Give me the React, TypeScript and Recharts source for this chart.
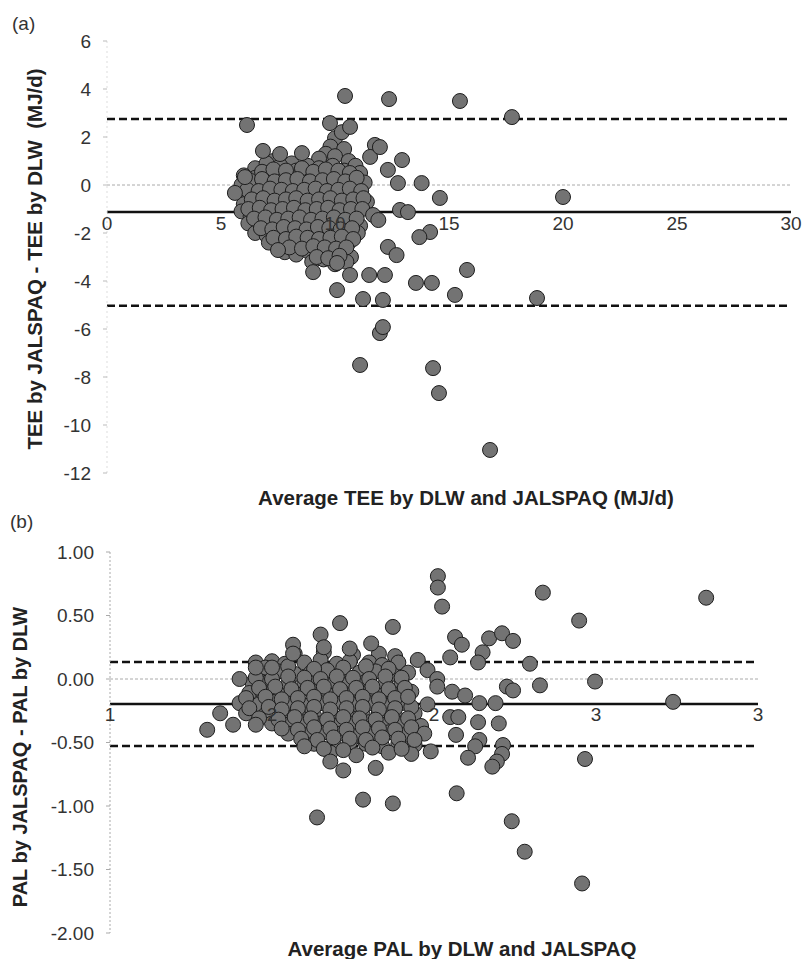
import {
  ReferenceDot,
  ReferenceLine,
  Scatter,
  ScatterChart,
  XAxis,
  YAxis,
} from "recharts";

// (a) TEE: average (MJ/d) vs difference (MJ/d)
const teeCluster: [number, number][] = [
  [10.0, 1.95], [10.3, 2.2], [9.8, 1.6], [10.4, 1.5], [9.6, 1.3],
  [7.3, 1.0], [9.3, 1.1], [10.0, 1.2], [10.6, 1.0], [8.1, 0.9],
  [6.5, 0.7], [7.0, 0.9], [7.6, 0.8], [8.3, 0.6], [8.8, 0.8], [9.3, 0.7], [9.9, 0.8], [10.4, 0.6], [10.9, 0.8],
  [6.0, 0.4], [6.5, 0.3], [7.1, 0.5], [7.6, 0.4], [8.1, 0.3], [8.6, 0.5], [9.2, 0.4], [9.7, 0.3], [10.2, 0.4], [10.7, 0.2], [11.1, 0.5],
  [5.9, 0.0], [6.4, -0.1], [6.9, 0.1], [7.4, 0.0], [7.9, -0.1], [8.4, 0.1], [8.9, -0.05], [9.4, 0.05], [9.9, -0.1], [10.4, 0.0], [10.9, -0.15], [11.3, 0.1],
  [6.1, -0.45], [6.6, -0.35], [7.1, -0.5], [7.6, -0.4], [8.1, -0.3], [8.6, -0.45], [9.1, -0.35], [9.6, -0.5], [10.1, -0.4], [10.6, -0.3], [11.1, -0.5],
  [6.0, -0.8], [6.5, -0.9], [7.0, -0.75], [7.5, -0.85], [8.0, -0.8], [8.5, -0.7], [9.0, -0.9], [9.5, -0.8], [10.0, -0.75], [10.5, -0.9], [11.0, -0.8], [11.4, -0.7],
  [5.9, -1.1], [6.3, -1.3], [6.8, -1.2], [7.3, -1.1], [7.8, -1.3], [8.3, -1.2], [8.8, -1.15], [9.3, -1.3], [9.8, -1.2], [10.3, -1.1], [10.8, -1.3],
  [6.2, -1.6], [6.7, -1.5], [7.2, -1.7], [7.7, -1.55], [8.2, -1.65], [8.7, -1.5], [9.2, -1.6], [9.7, -1.7], [10.2, -1.55], [10.7, -1.6], [11.1, -1.7],
  [6.5, -2.0], [7.0, -2.1], [7.5, -1.95], [8.0, -2.05], [8.5, -2.1], [9.0, -1.95], [9.5, -2.1], [10.0, -2.0], [10.5, -2.15], [11.0, -2.0],
  [7.1, -2.4], [7.6, -2.5], [8.1, -2.35], [8.6, -2.45], [9.1, -2.5], [9.6, -2.35], [10.1, -2.45], [10.6, -2.4],
  [7.8, -2.8], [8.3, -2.9], [8.8, -2.75], [9.3, -2.85], [9.8, -2.9], [10.3, -2.8], [10.7, -3.0],
  [9.0, -3.2], [9.5, -3.1], [10.0, -3.3], [10.5, -3.2],
  // in-between rows
  [6.8, 0.55], [7.3, 0.65], [7.85, 0.6], [8.55, 0.7], [9.05, 0.55], [9.6, 0.65], [10.15, 0.6], [10.65, 0.5],
  [6.25, 0.2], [6.8, 0.25], [7.35, 0.15], [7.85, 0.2], [8.35, 0.25], [8.9, 0.15], [9.45, 0.2], [9.95, 0.25], [10.45, 0.15], [10.95, 0.3],
  [6.15, -0.2], [6.65, -0.25], [7.15, -0.15], [7.65, -0.2], [8.15, -0.25], [8.65, -0.2], [9.15, -0.15], [9.65, -0.25], [10.15, -0.2], [10.65, -0.15], [11.15, -0.25],
  [6.35, -0.6], [6.85, -0.55], [7.35, -0.65], [7.85, -0.6], [8.3, -0.55], [8.8, -0.65], [9.3, -0.6], [9.8, -0.55], [10.3, -0.65], [10.8, -0.6], [11.25, -0.55],
  [6.2, -1.0], [6.7, -0.95], [7.2, -1.05], [7.7, -1.0], [8.2, -0.95], [8.7, -1.05], [9.2, -1.0], [9.7, -0.95], [10.2, -1.05], [10.7, -1.0], [11.2, -1.0],
  [6.45, -1.4], [6.95, -1.35], [7.45, -1.45], [7.95, -1.4], [8.45, -1.35], [8.95, -1.45], [9.45, -1.4], [9.95, -1.35], [10.45, -1.45], [10.95, -1.4],
  [6.75, -1.8], [7.25, -1.85], [7.75, -1.75], [8.25, -1.8], [8.75, -1.85], [9.25, -1.75], [9.75, -1.8], [10.25, -1.85], [10.75, -1.8],
  [7.3, -2.2], [7.85, -2.25], [8.3, -2.15], [8.8, -2.2], [9.3, -2.25], [9.8, -2.2], [10.3, -2.15], [10.8, -2.25],
  [8.0, -2.6], [8.55, -2.65], [9.05, -2.55], [9.55, -2.6], [10.05, -2.65], [10.5, -2.6],
  [9.2, -3.0], [9.7, -3.05], [10.2, -2.95],
];

const teeOutliers: [number, number][] = [
  [10.44, 3.71], [12.37, 3.58], [15.48, 3.5], [17.76, 2.83], [6.14, 2.5], [9.78, 2.58], [10.66, 2.42],
  [6.84, 1.42], [7.59, 1.29], [8.55, 1.33], [6.05, 0.33], [5.61, -0.33], [11.75, 1.67], [11.54, 1.17],
  [12.94, 1.04], [12.32, 0.63], [12.76, 0.08], [13.8, 0.08], [14.6, -0.54], [20.0, -0.5], [11.97, 1.58],
  [12.85, -1.04], [13.2, -1.13], [11.67, -1.25], [11.9, -1.46], [14.17, -1.96], [13.7, -2.17],
  [12.32, -2.58], [12.7, -2.92], [15.79, -3.54], [9.04, -3.63], [11.5, -3.75], [12.19, -3.75],
  [13.55, -4.08], [14.25, -4.08], [10.09, -4.38], [15.26, -4.58], [11.23, -4.75], [12.1, -4.79],
  [18.86, -4.71], [11.97, -6.17], [12.1, -5.92], [11.1, -7.5], [14.3, -7.63], [14.56, -8.67],
  [16.8, -11.04], [10.09, -3.25], [10.66, -3.75], [7.5, -2.71],
];

const teeTicksX = [0, 5, 10, 15, 20, 25, 30];
const teeTicksY = [-12, -10, -8, -6, -4, -2, 0, 2, 4, 6];
const teeMean = -1.12;
const teeUpper = 2.75;
const teeLower = -5.03;

// (b) PAL: average vs difference
const palCluster: [number, number][] = [
  [1.57, 0.2], [1.66, 0.21], [1.75, 0.19], [1.83, 0.2], [1.88, 0.18],
  [1.45, 0.13], [1.5, 0.14], [1.54, 0.12], [1.6, 0.13], [1.65, 0.15], [1.7, 0.12], [1.74, 0.14], [1.8, 0.13], [1.84, 0.11], [1.89, 0.13],
  [1.47, 0.05], [1.52, 0.06], [1.57, 0.04], [1.62, 0.05], [1.67, 0.07], [1.72, 0.04], [1.77, 0.05], [1.82, 0.06], [1.87, 0.04], [1.92, 0.05],
  [1.44, -0.03], [1.49, -0.02], [1.55, -0.04], [1.6, -0.03], [1.64, -0.01], [1.69, -0.04], [1.74, -0.03], [1.79, -0.02], [1.85, -0.04], [1.9, -0.03],
  [1.43, -0.11], [1.47, -0.1], [1.52, -0.12], [1.57, -0.11], [1.62, -0.09], [1.67, -0.12], [1.72, -0.11], [1.77, -0.1], [1.82, -0.12], [1.87, -0.11], [1.93, -0.1],
  [1.4, -0.19], [1.46, -0.2], [1.5, -0.18], [1.55, -0.19], [1.6, -0.21], [1.65, -0.19], [1.7, -0.18], [1.75, -0.2], [1.8, -0.19], [1.85, -0.21], [1.9, -0.19],
  [1.42, -0.27], [1.48, -0.28], [1.53, -0.26], [1.58, -0.27], [1.63, -0.29], [1.68, -0.27], [1.73, -0.26], [1.78, -0.28], [1.83, -0.27], [1.88, -0.29], [1.94, -0.27],
  [1.5, -0.35], [1.55, -0.36], [1.6, -0.34], [1.65, -0.35], [1.7, -0.37], [1.75, -0.35], [1.8, -0.34], [1.85, -0.36], [1.9, -0.35], [1.96, -0.37],
  [1.55, -0.43], [1.61, -0.44], [1.66, -0.42], [1.71, -0.43], [1.76, -0.45], [1.81, -0.43], [1.86, -0.42], [1.91, -0.44], [1.97, -0.43],
  [1.63, -0.51], [1.69, -0.52], [1.74, -0.5], [1.79, -0.51], [1.84, -0.53], [1.89, -0.51], [1.94, -0.52],
  [1.68, -0.58], [1.76, -0.6], [1.86, -0.58], [1.93, -0.59], [1.99, -0.57],
  // in-between rows
  [1.48, 0.09], [1.55, 0.1], [1.63, 0.08], [1.72, 0.09], [1.79, 0.1], [1.86, 0.08],
  [1.45, 0.01], [1.5, 0.0], [1.55, 0.02], [1.6, 0.01], [1.65, 0.0], [1.7, 0.02], [1.75, 0.01], [1.8, 0.0], [1.85, 0.02], [1.9, 0.01],
  [1.46, -0.07], [1.51, -0.06], [1.56, -0.08], [1.61, -0.07], [1.66, -0.06], [1.71, -0.08], [1.76, -0.07], [1.81, -0.06], [1.86, -0.08], [1.91, -0.07],
  [1.42, -0.15], [1.48, -0.14], [1.53, -0.16], [1.58, -0.15], [1.63, -0.14], [1.68, -0.16], [1.73, -0.15], [1.78, -0.14], [1.83, -0.16], [1.88, -0.15],
  [1.43, -0.23], [1.49, -0.22], [1.53, -0.24], [1.58, -0.23], [1.63, -0.22], [1.68, -0.24], [1.73, -0.23], [1.78, -0.22], [1.83, -0.24], [1.88, -0.23], [1.93, -0.22],
  [1.46, -0.31], [1.52, -0.32], [1.57, -0.3], [1.62, -0.31], [1.67, -0.32], [1.72, -0.3], [1.77, -0.31], [1.82, -0.32], [1.87, -0.3], [1.92, -0.31],
  [1.53, -0.39], [1.58, -0.4], [1.63, -0.38], [1.68, -0.39], [1.73, -0.4], [1.78, -0.38], [1.83, -0.39], [1.88, -0.4], [1.93, -0.38],
  [1.59, -0.47], [1.64, -0.48], [1.69, -0.46], [1.74, -0.47], [1.79, -0.48], [1.84, -0.46], [1.89, -0.47], [1.94, -0.48],
  [1.66, -0.55], [1.72, -0.56], [1.81, -0.54], [1.9, -0.55],
];

const palOutliers: [number, number][] = [
  [2.012, 0.81], [2.012, 0.72], [2.025, 0.57], [2.336, 0.68], [2.84, 0.64], [2.448, 0.46], [1.873, 0.41],
  [1.71, 0.44], [2.065, 0.33], [2.086, 0.27], [2.17, 0.32], [2.21, 0.36], [2.244, 0.3], [2.15, 0.21],
  [2.136, 0.13], [2.05, 0.17], [2.296, 0.12], [2.497, -0.02], [2.327, -0.05], [2.225, -0.06], [2.244, -0.09],
  [2.738, -0.18], [2.14, -0.19], [2.19, -0.19], [2.056, -0.1], [2.096, -0.13], [2.05, -0.3], [2.075, -0.3],
  [2.136, -0.34], [2.2, -0.35], [2.068, -0.44], [2.14, -0.48], [2.127, -0.53], [2.105, -0.62], [2.213, -0.52],
  [2.21, -0.59], [2.194, -0.65], [2.18, -0.69], [2.466, -0.63], [2.07, -0.9], [1.873, -0.98], [2.24, -1.12],
  [2.28, -1.36], [2.457, -1.61], [1.639, -1.09], [1.781, -0.95], [1.3, -0.4], [1.34, -0.27], [1.38, -0.36],
  [1.45, -0.36], [1.65, 0.35], [1.66, 0.25], [1.565, 0.27], [1.565, 0.2], [1.806, 0.28], [1.74, 0.24],
  [1.45, 0.09], [1.5, 0.09], [1.4, 0.0], [1.95, 0.15], [1.98, 0.07], [2.01, 0.0], [2.01, -0.06], [1.92, -0.14],
  [1.98, -0.2], [1.68, -0.65], [1.72, -0.72], [1.82, -0.7], [1.6, -0.53],
];

const palTicksX = [1, 1.5, 2, 2.5, 3];
const palTicksY = [-2, -1.5, -1, -0.5, 0, 0.5, 1];
const palMean = -0.197;
const palUpper = 0.134;
const palLower = -0.528;

const toPts = (arr: [number, number][]) => arr.map(([x, y]) => ({ x, y }));

const Dot = (p: any) => (
  <circle cx={p.cx} cy={p.cy} r={7.5} fill="#737373" stroke="#1e1e1e" strokeWidth={1} />
);

const tickStyle = { fill: "#333", fontSize: 19 };

export default function App() {
  const teeData = toPts([...teeCluster, ...teeOutliers]);
  const palData = toPts([...palCluster, ...palOutliers]);
  return (
    <div
      style={{
        position: "absolute",
        left: 0,
        top: 0,
        width: 805,
        height: 959,
        background: "#fff",
        fontFamily: "'Liberation Sans', Arial, sans-serif",
      }}
    >
      <div style={{ position: "absolute", left: 0, top: 0 }}>
        <ScatterChart width={805} height={500} margin={{ top: 41, right: 14, bottom: 27, left: 0 }}>
          <XAxis type="number" dataKey="x" domain={[0, 30]} hide />
          <YAxis
            type="number"
            dataKey="y"
            domain={[-12, 6]}
            ticks={teeTicksY}
            width={107}
            tickSize={4}
            tickMargin={12}
            tick={tickStyle}
            axisLine={{ stroke: "#ddd", strokeDasharray: "2 3" }}
            tickLine={{ stroke: "#bbb" }}
          />
          <ReferenceLine y={0} stroke="#aaa" strokeDasharray="3 2" />
          <ReferenceLine y={teeUpper} stroke="#111" strokeWidth={2.5} strokeDasharray="8 4" />
          <ReferenceLine y={teeLower} stroke="#111" strokeWidth={2.5} strokeDasharray="8 4" />
          <ReferenceLine y={teeMean} stroke="#111" strokeWidth={2.5} />
          {teeTicksX.map((t) => (
            <ReferenceDot
              key={t}
              x={t}
              y={teeMean}
              r={0}
              fill="none"
              stroke="none"
              label={{ value: String(t), position: "bottom", offset: 5, fill: "#333", fontSize: 19 }}
            />
          ))}
          <Scatter data={teeData} shape={Dot} isAnimationActive={false} />
        </ScatterChart>
      </div>
      <div style={{ position: "absolute", left: 0, top: 500 }}>
        <ScatterChart width={805} height={459} margin={{ top: 52, right: 47, bottom: 26, left: 0 }}>
          <XAxis type="number" dataKey="x" domain={[1, 3]} hide />
          <YAxis
            type="number"
            dataKey="y"
            domain={[-2, 1]}
            ticks={palTicksY}
            width={110}
            tickSize={4}
            tickMargin={12}
            tick={tickStyle}
            tickFormatter={(v: number) => v.toFixed(2)}
            axisLine={{ stroke: "#aaa", strokeDasharray: "2 2" }}
            tickLine={{ stroke: "#aaa" }}
          />
          <ReferenceLine y={0} stroke="#aaa" strokeDasharray="3 2" />
          <ReferenceLine y={palUpper} stroke="#111" strokeWidth={2.5} strokeDasharray="8 4" />
          <ReferenceLine y={palLower} stroke="#111" strokeWidth={2.5} strokeDasharray="8 4" />
          <ReferenceLine y={palMean} stroke="#111" strokeWidth={2.5} />
          {palTicksX.map((t) => (
            <ReferenceDot
              key={t}
              x={t}
              y={palMean}
              r={0}
              fill="none"
              stroke="none"
              label={{ value: String(Math.round(t)), position: "bottom", offset: 3, fill: "#333", fontSize: 19 }}
            />
          ))}
          <Scatter data={palData} shape={Dot} isAnimationActive={false} />
        </ScatterChart>
      </div>
      <svg
        width={805}
        height={959}
        style={{ position: "absolute", left: 0, top: 0, pointerEvents: "none" }}
      >
        <text x={12} y={30} fontSize={19} fill="#333">(a)</text>
        <text x={10} y={528} fontSize={19} fill="#333">(b)</text>
        <text x={466} y={505} fontSize={20.5} fontWeight="bold" fill="#222" textAnchor="middle">
          Average TEE by DLW and JALSPAQ (MJ/d)
        </text>
        <text x={462} y={956} fontSize={20.5} fontWeight="bold" fill="#222" textAnchor="middle">
          Average PAL by DLW and JALSPAQ
        </text>
        <text
          transform="translate(42,259) rotate(-90)"
          fontSize={20.5}
          fontWeight="bold"
          fill="#222"
          textAnchor="middle"
          style={{ whiteSpace: "pre" }}
        >
          {"TEE by JALSPAQ - TEE by DLW  (MJ/d)"}
        </text>
        <text
          transform="translate(27,757) rotate(-90)"
          fontSize={20}
          fontWeight="bold"
          fill="#222"
          textAnchor="middle"
        >
          PAL by JALSPAQ - PAL by DLW
        </text>
      </svg>
    </div>
  );
}
